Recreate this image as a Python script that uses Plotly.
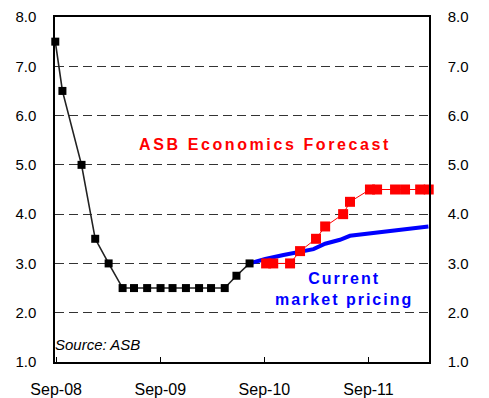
import plotly.graph_objects as go

# OCR history (black)
ocr_dates = ["2008-09-11", "2008-10-06", "2008-12-12", "2009-01-29", "2009-03-17",
             "2009-05-05", "2009-06-14", "2009-07-30", "2009-09-15", "2009-10-27",
             "2009-12-13", "2010-01-28", "2010-03-11", "2010-04-28", "2010-06-08",
             "2010-07-24"]
ocr_values = [7.5, 6.5, 5.0, 3.5, 3.0, 2.5, 2.5, 2.5, 2.5, 2.5, 2.5, 2.5, 2.5, 2.5, 2.75, 3.0]

# ASB Economics forecast (red)
fc_dates = ["2010-09-20", "2010-10-15", "2010-12-13", "2011-01-17", "2011-03-14",
            "2011-04-15", "2011-06-17", "2011-07-11", "2011-09-19", "2011-10-14",
            "2011-12-16", "2012-01-20", "2012-03-13", "2012-04-12"]
fc_values = [3.0, 3.0, 3.0, 3.25, 3.5, 3.75, 4.0, 4.25, 4.5, 4.5, 4.5, 4.5, 4.5, 4.5]

# Current market pricing (blue)
mkt_dates = ["2010-07-24", "2010-09-17", "2010-11-20", "2011-01-11", "2011-03-05",
             "2011-04-15", "2011-06-06", "2011-07-11", "2011-09-08", "2011-10-24",
             "2011-12-22", "2012-02-18", "2012-04-11"]
mkt_values = [3.0, 3.09, 3.17, 3.23, 3.29, 3.40, 3.48, 3.56, 3.60, 3.65, 3.69, 3.73, 3.75]

tick_dates = ["2008-09-14", "2009-09-14", "2010-09-14", "2011-09-14"]
tick_labels = ["Sep-08", "Sep-09", "Sep-10", "Sep-11"]
y_ticks = [1, 2, 3, 4, 5, 6, 7, 8]
y_labels = ["1.0", "2.0", "3.0", "4.0", "5.0", "6.0", "7.0", "8.0"]

x_range = ["2008-09-10", "2012-04-13"]
y_range = [1, 8]

fig = go.Figure()
fig.add_trace(go.Scatter(x=mkt_dates, y=mkt_values, mode="lines",
                         line=dict(color="#0000FF", width=4), cliponaxis=False,
                         hoverinfo="skip"))
fig.add_trace(go.Scatter(x=fc_dates, y=fc_values, mode="lines+markers",
                         line=dict(color="#FF0000", width=1),
                         marker=dict(symbol="square", size=10, color="#FF0000"),
                         cliponaxis=False))
fig.add_trace(go.Scatter(x=ocr_dates, y=ocr_values, mode="lines+markers",
                         line=dict(color="#222222", width=1.6),
                         marker=dict(symbol="square", size=8, color="#000000"),
                         cliponaxis=False))
# right-hand axis copy
fig.add_trace(go.Scatter(x=[ocr_dates[0]], y=[None], yaxis="y2", showlegend=False,
                         hoverinfo="skip", mode="lines"))

font_family = "Liberation Sans, Arial, sans-serif"

fig.update_layout(
    width=489, height=398,
    margin=dict(l=55, r=60, t=17, b=36, autoexpand=False),
    paper_bgcolor="white", plot_bgcolor="white",
    showlegend=False,
    font=dict(family=font_family, color="black"),
    xaxis=dict(type="date", range=x_range, tickvals=tick_dates, ticktext=tick_labels,
               ticks="inside", ticklen=5, tickcolor="black", tickwidth=1,
               showgrid=False, zeroline=False, automargin=False,
               showline=True, mirror=True, linecolor="black", linewidth=1.5,
               tickfont=dict(size=16, family=font_family),
               ticklabelstandoff=12),
    yaxis=dict(range=y_range, tickvals=y_ticks, ticktext=y_labels,
               showgrid=True, gridcolor="#333333", gridwidth=1, griddash="9px,5px",
               zeroline=False, showline=True, linecolor="black", linewidth=1.5,
               ticks="", tickfont=dict(size=15, family=font_family),
               automargin=False, ticklabelstandoff=14),
    yaxis2=dict(range=y_range, tickvals=y_ticks, ticktext=y_labels,
                overlaying="y", side="right", showgrid=False, zeroline=False,
                showline=True, linecolor="black", linewidth=1.5, ticks="",
                tickfont=dict(size=15, family=font_family),
                automargin=False, ticklabelstandoff=14),
    annotations=[
        dict(text='<b><span style="letter-spacing:2.6px">ASB Economics Forecast</span></b>',
             xref="paper", yref="paper", x=0.561, y=0.629, showarrow=False,
             xanchor="center", yanchor="middle",
             font=dict(size=16, color="#FF0000", family=font_family)),
        dict(text='<b><span style="letter-spacing:2px">Current<br>market pricing</span></b>',
             xref="paper", yref="paper", x=0.773, y=0.212, showarrow=False,
             xanchor="center", yanchor="middle", align="center",
             font=dict(size=16, color="#0000FF", family=font_family)),
        dict(text="<i>Source: ASB</i>",
             xref="paper", yref="paper", x=-0.005, y=0.052, showarrow=False,
             xanchor="left", yanchor="middle",
             font=dict(size=15, color="black", family=font_family)),
    ],
)

fig.write_html("out.html")
